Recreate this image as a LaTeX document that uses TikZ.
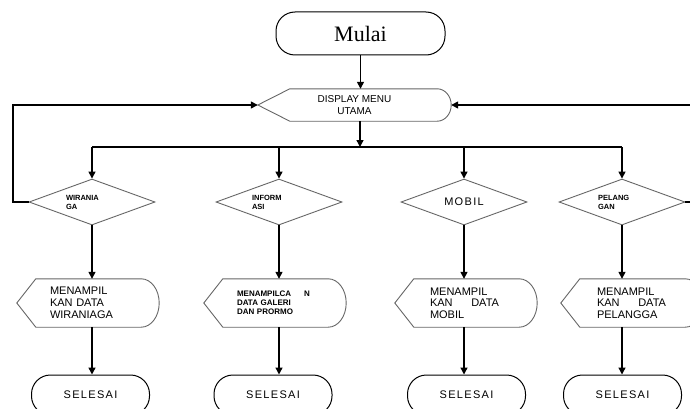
\documentclass[tikz,border=0pt]{standalone}
\usepackage{fontspec}
\setmainfont{Liberation Serif}
\setsansfont{Liberation Sans}
\newfontfamily\spacedsans[LetterSpace=12]{Liberation Sans}
\usetikzlibrary{calc, positioning, arrows.meta, shapes.geometric}

\tikzset{
  flow/.style={->, line width=1.4pt},
  shapeline/.style={draw=black!60, line width=0.9pt},
  term/.style={draw, line width=1pt, rectangle, rounded corners=19pt, inner sep=0pt},
  decision/.style={shapeline, diamond, aspect=2.7, minimum width=126pt, minimum height=46pt,
    inner sep=0pt, align=left, font=\sffamily\bfseries\fontsize{7.5}{9}\selectfont},
  proc/.style={rectangle, minimum width=142pt, minimum height=48pt, inner sep=0pt, align=left}
}

% display symbol: pointed left end, round right end
\newcommand{\dispshape}[3]{%
  \draw[shapeline] let \p1=(#1.north), \p2=(#1.south), \n1={(\y1-\y2)/2} in
    (#1.west) -- ([xshift=#2]#1.north west) -- ([xshift=-#3]#1.north east)
    arc[start angle=90, end angle=-90, x radius=#3, y radius=\n1]
    -- ([xshift=#2]#1.south west) -- cycle;}

\begin{document}
\begin{tikzpicture}[x=1pt, y=1pt, >={Triangle[length=7pt, width=7pt]}]
  \useasboundingbox (0,0) rectangle (690,408);
  \clip (0,0) rectangle (690,408);

  % Start
  \node[term, minimum width=169pt, minimum height=43pt, font=\fontsize{22}{24}\selectfont]
    (mulai) at (360.5,374.5) {Mulai};

  % Main menu
  \node[proc, minimum width=193pt, minimum height=32pt, align=center,
    font=\sffamily\fontsize{10}{12}\selectfont] (disp) at (354.5,303) {DISPLAY MENU\\UTAMA};
  \dispshape{disp}{32pt}{14pt}

  % Menu choices
  \node[decision, text width=52pt] (d1) at (92,206) {WIRANIA\\GA};
  \node[decision, text width=54pt] (d2) at (279,206) {INFORM\\ASI};
  \node[decision, align=center, font=\spacedsans\fontsize{11}{13}\selectfont] (d3) at (464,206) {MOBIL};
  \node[decision, text width=48pt] (d4) at (622,206) {PELANG\\GAN};

  % Outputs
  \node[proc, text width=76pt, font=\sffamily\fontsize{11}{12}\selectfont] (p1) at (88,105)
    {MENAMPIL\\KAN DATA\\WIRANIAGA};
  \node[proc, text width=76pt, font=\sffamily\bfseries\fontsize{8}{9}\selectfont] (p2) at (275,105)
    {MENAMPILCA\hspace{1.6em}N\\DATA GALERI\\DAN PRORMO};
  \node[proc, text width=72pt, font=\sffamily\fontsize{11}{11.5}\selectfont] (p3) at (466,105)
    {MENAMPIL\\\makebox[69pt]{KAN\hfill DATA}\\MOBIL};
  \node[proc, text width=70pt, font=\sffamily\fontsize{11}{11.5}\selectfont] (p4) at (632,105)
    {MENAMPIL\\\makebox[69pt]{KAN\hfill DATA}\\PELANGGA};
  \foreach \q in {p1,p2,p3,p4} {\dispshape{\q}{19pt}{18pt}}

  % End
  \foreach \s/\x in {s1/90.5, s2/273, s3/466.5, s4/622.5}
    \node[term, minimum width=118pt, minimum height=40pt, font=\spacedsans\fontsize{11}{13}\selectfont]
      (\s) at (\x,13) {SELESAI};

  % Connections
  \coordinate (bus) at (360,261);
  \coordinate (loopL) at (13,303);
  \coordinate (loopR) at (705,303);
  \draw[flow] (mulai.south) -- (mulai.south |- disp.north);
  \draw[flow] (bus |- disp.south) -- (bus);
  \draw[line width=1.4pt] (bus -| d1) -- (bus -| d4);
  \foreach \d in {d1,d2,d3,d4}
    \draw[flow] (bus -| \d) -- (\d.north);
  \foreach \d/\q/\s in {d1/p1/s1, d2/p2/s2, d3/p3/s3, d4/p4/s4} {
    \draw[flow] (\d.south) -- (\d.south |- \q.north);
    \draw[flow] (\d.south |- \q.south) -- (\d.south |- \s.north);
  }

  % Back to the menu
  \draw[flow] (d1.west) -| (loopL) -- (disp.west);
  \draw[flow] (d4.east) -| (loopR) -- (disp.east);
\end{tikzpicture}
\end{document}
